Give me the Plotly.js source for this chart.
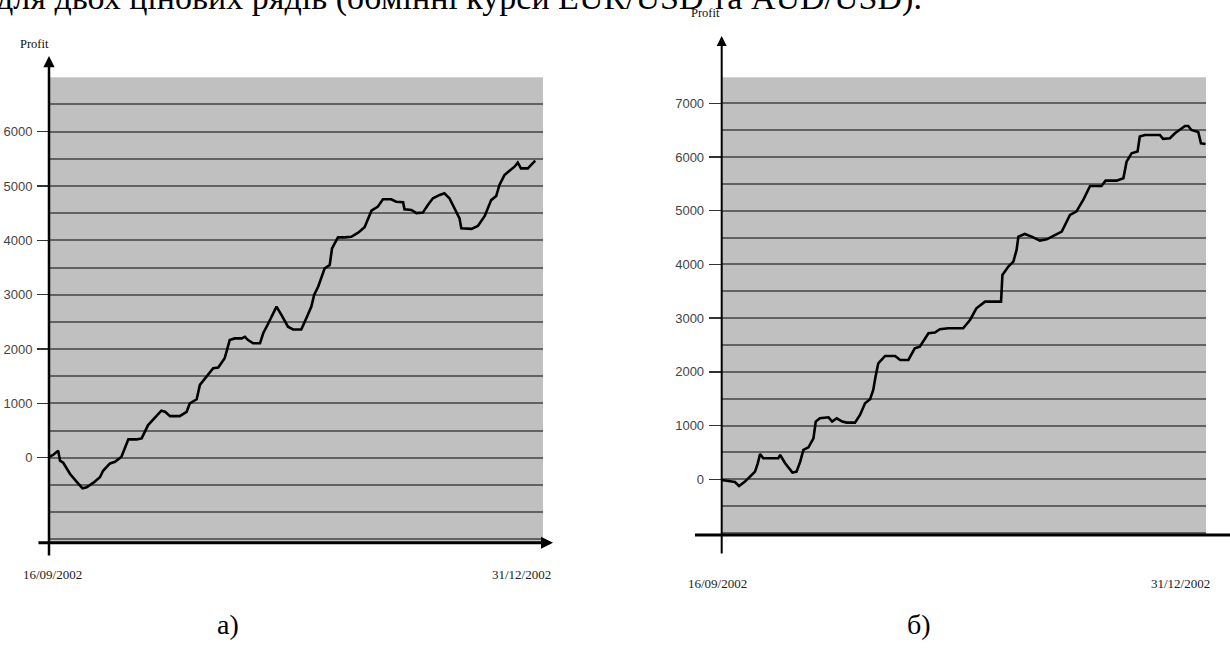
<!DOCTYPE html>
<html>
<head>
<meta charset="utf-8">
<script src="https://cdn.plot.ly/plotly-3.0.1.min.js"></script>
<style>
  html, body { margin: 0; padding: 0; background: #ffffff; }
  #chart { width: 1230px; height: 654px; }
</style>
</head>
<body>
<div id="chart"></div>
<script>
// ---- data ----
const captionText = "для двох цінових рядів (обмінні курси EUR/USD та AUD/USD).";
const panelLabels = ["а)", "б)"];
const yAxisTitle = "Profit";
const dateLabels = ["16/09/2002", "31/12/2002"];

// chart а): days since 16/09/2002 and profit
const daysA = [0,0.9,2.0,2.4,3.1,4.6,6.0,7.3,8.2,9.7,11.1,11.8,13.3,14.4,15.8,17.3,19.1,20.2,21.6,23.1,
  24.5,25.3,26.4,28.5,30.0,30.7,32.2,32.9,34.3,35.8,36.9,38.3,39.4,40.5,42.0,42.7,43.4,44.5,46.0,46.7,
  47.8,48.9,49.6,50.7,52.1,53.2,55.0,56.1,57.2,57.8,58.7,60.1,61.2,61.7,63.0,64.5,65.9,67.4,68.8,70.3,
  71.7,72.8,74.6,75.7,77.2,77.5,79.0,80.1,81.5,82.6,83.7,85.2,86.2,87.3,88.4,89.5,89.9,92.1,93.5,95.0,
  96.4,97.5,98.2,99.3,100.4,101.5,102.2,102.9,104.4,105.1,106];
const profitA = [18,50,130,-55,-92,-300,-440,-565,-545,-460,-360,-240,-105,-75,18,337,337,355,600,735,
  865,845,765,765,845,1000,1075,1340,1490,1645,1660,1830,2165,2195,2195,2225,2165,2105,2105,2290,
  2470,2655,2780,2625,2410,2360,2360,2565,2780,2995,3150,3485,3545,3850,4055,4055,4065,4140,4240,4545,
  4620,4755,4755,4710,4700,4570,4560,4500,4510,4650,4775,4835,4865,4775,4590,4405,4220,4210,4265,4450,
  4740,4815,5020,5200,5280,5355,5430,5325,5325,5385,5465];

// chart б): days since 16/09/2002 and profit
const daysB = [0,1.5,2.9,3.8,5.1,6.2,7.3,7.9,8.4,9.1,12.4,12.8,13.9,15.5,16.4,17.2,17.9,19.0,20.1,20.6,
  21.5,23.4,24.2,25.2,26.4,27.4,29.2,30.3,31.4,32.5,33.2,33.7,34.3,35.8,38.0,39.1,40.9,42.3,43.4,45.3,
  46.7,47.8,49.6,52.9,54.4,55.8,57.7,59.5,61.2,61.5,62.8,63.9,64.6,65.0,66.4,67.9,69.7,71.2,72.3,74.5,
  76.3,77.7,79.2,80.7,83.2,84.1,86.5,88.0,88.7,89.8,91.1,91.6,92.7,96.0,96.7,98.2,99.3,100.4,101.5,102.2,
  102.9,104.4,105.0,106.0];
const profitB = [-12,-25,-50,-124,-43,50,143,298,472,391,391,453,298,124,143,329,546,596,763,1074,
  1136,1154,1074,1136,1074,1055,1055,1198,1415,1489,1663,1911,2160,2296,2296,2222,2222,2439,2470,2718,
  2731,2793,2811,2811,2966,3184,3308,3308,3308,3804,3960,4053,4270,4518,4568,4518,4443,4468,4518,4611,
  4921,4983,5200,5461,5461,5560,5560,5604,5914,6070,6101,6380,6411,6411,6337,6349,6442,6516,6578,6578,
  6504,6467,6256,6243];

const yTicksA = [0,1000,2000,3000,4000,5000,6000];
const yTicksB = [0,1000,2000,3000,4000,5000,6000,7000];

// ---- styling ----
const W = 1230, H = 654;
const px = v => v / W;
const py = v => 1 - v / H;
const tickFont = {family: "Liberation Sans, Arial, sans-serif", size: 13, color: "#444"};
const dateFont = {family: "Liberation Serif, Times New Roman, serif", size: 13, color: "#222"};
const profitFont = {family: "Liberation Serif, Times New Roman, serif", size: 12.5, color: "#111"};
const serif = "Liberation Serif, Times New Roman, serif";

const lineStyle = {color: "#000", width: 2.6};

const traces = [
  {x: daysA, y: profitA, xaxis: "x", yaxis: "y", type: "scatter", mode: "lines", line: lineStyle, hoverinfo: "skip"},
  {x: daysB, y: profitB, xaxis: "x2", yaxis: "y2", type: "scatter", mode: "lines", line: lineStyle, hoverinfo: "skip"}
];

function yAxis(domain, range, ticks, ticklen, anchor) {
  return {
    domain: domain, range: range, anchor: anchor, fixedrange: true,
    tickmode: "array", tickvals: ticks, ticktext: ticks.map(String),
    ticks: "outside", ticklen: ticklen, tickwidth: 1.5, tickcolor: "#333",
    tickfont: tickFont, ticklabelstandoff: 2,
    showgrid: true, gridcolor: "#626262", gridwidth: 2,
    minor: {dtick: 500, tick0: 0, showgrid: true, gridcolor: "#626262", gridwidth: 2, ticks: ""},
    zeroline: false, showline: false
  };
}
function xAxis(domain, range, anchor) {
  return {domain: domain, range: range, anchor: anchor, fixedrange: true,
    showgrid: false, zeroline: false, showline: false, showticklabels: false, ticks: ""};
}

function label(text, xref, x, y, font, extra) {
  return Object.assign({text: text, xref: xref, yref: "paper", x: x, y: y,
    xanchor: "center", yanchor: "middle", showarrow: false, font: font}, extra || {});
}

const layout = {
  width: W, height: H,
  margin: {l: 0, r: 0, t: 0, b: 0},
  paper_bgcolor: "#ffffff",
  showlegend: false,
  xaxis: xAxis([px(49), px(543)], [0, 107.7], "y"),
  yaxis: yAxis([1 - 542.7 / H, 1 - 77.3 / H], [-1564, 7000], yTicksA, 11, "x"),
  xaxis2: xAxis([px(721.7), px(1206)], [0, 106.1], "y2"),
  yaxis2: yAxis([1 - 535 / H, 1 - 77.3 / H], [-1037, 7484], yTicksB, 12, "x2"),
  plot_bgcolor: "#c0c0c0",
  shapes: [
    // right chart horizontal axis line (runs off the page edge)
    {type: "line", xref: "paper", yref: "paper", x0: px(695), x1: 1.0, y0: py(535), y1: py(535),
     line: {color: "#000", width: 3}}
  ],
  annotations: [
    label(captionText, "paper", px(-6), py(-2), {family: serif, size: 34, color: "#000"}, {xanchor: "left"}),
    // y axis arrows
    {text: "", xref: "x", yref: "paper", x: 0, y: py(56), showarrow: true, arrowhead: 2, arrowsize: 0.9,
     arrowwidth: 2.5, arrowcolor: "#000", ax: 0, ay: 501, standoff: 0},
    {text: "", xref: "x2", yref: "paper", x: 0, y: py(36), showarrow: true, arrowhead: 2, arrowsize: 1,
     arrowwidth: 2, arrowcolor: "#000", ax: 0, ay: 519, standoff: 0},
    // left x axis arrow
    {text: "", xref: "paper", yref: "paper", x: px(553), y: py(542.7), showarrow: true, arrowhead: 2, arrowsize: 0.8,
     arrowwidth: 3, arrowcolor: "#000", ax: -516, ay: 0, standoff: 0},
    // axis titles
    label(yAxisTitle, "paper", px(34), py(44), profitFont),
    label(yAxisTitle, "paper", px(705), py(13), profitFont),
    // date labels
    label(dateLabels[0], "x", daysA[0], py(574), dateFont, {xshift: 3}),
    label(dateLabels[1], "x", daysA[daysA.length - 1], py(574), dateFont, {xanchor: "right", xshift: 18}),
    label(dateLabels[0], "x2", daysB[0], py(583), dateFont, {xshift: -4}),
    label(dateLabels[1], "x2", daysB[daysB.length - 1], py(583), dateFont, {xanchor: "right", xshift: 6}),
    // panel labels
    label(panelLabels[0], "paper", px(228), py(624), {family: serif, size: 28, color: "#000"}),
    label(panelLabels[1], "paper", px(919), py(624), {family: serif, size: 28, color: "#000"})
  ]
};

Plotly.newPlot("chart", traces, layout, {staticPlot: true, displayModeBar: false});
</script>
</body>
</html>
